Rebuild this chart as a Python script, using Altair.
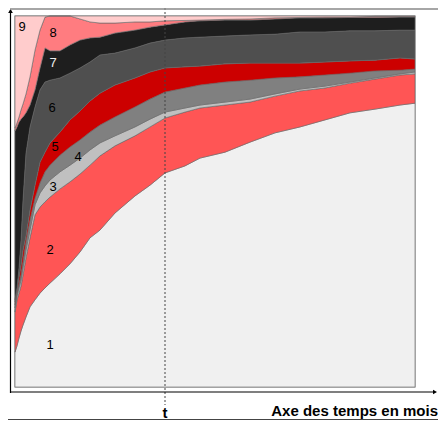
import altair as alt
import pandas as pd

# time axis (months)
months = [0, 0.4, 0.8, 1.2, 1.6, 2.2, 3, 4, 5, 6, 7, 9, 11, 13, 15, 17, 20, 24, 27, 30,
          34, 37, 42, 47, 52, 57, 62, 67, 72, 77, 80]

# cumulative share (%) of the cohort in states 1..k
cum1 = [9.4, 11.1, 13.2, 15.1, 16.7, 18.9, 21.6, 23.5, 25.3, 26.7, 28.0, 30.5, 33.2, 36.4, 40.2, 42.3,
        46.9, 51.5, 54.4, 57.7, 59.6, 61.7, 63.3, 66.0, 68.5, 70.1, 72.0, 73.9, 74.9, 76.0, 76.5]
cum2 = [20.2, 23.5, 25.3, 27.2, 30.2, 34.8, 40.2, 46.4, 48.5, 49.9, 51.2, 53.4, 55.3, 57.4, 59.8, 62.3,
        65.0, 67.7, 70.1, 72.5, 74.1, 75.2, 76.0, 76.8, 78.4, 79.8, 80.6, 81.9, 83.0, 84.1, 84.4]
cum3 = [21.3, 24.5, 26.7, 28.8, 32.1, 36.9, 42.3, 49.1, 52.3, 54.2, 55.8, 58.0, 59.8, 61.7, 63.9, 65.8,
        67.7, 70.1, 72.2, 74.1, 75.2, 76.0, 76.8, 77.6, 79.0, 80.3, 81.1, 82.2, 83.3, 84.4, 84.9]
cum4 = [22.1, 25.3, 27.8, 30.2, 33.7, 39.1, 45.0, 50.9, 55.0, 58.0, 59.8, 62.5, 64.7, 66.6, 68.7, 70.6,
        72.8, 75.5, 77.6, 79.5, 80.6, 81.4, 82.2, 82.7, 83.3, 83.6, 84.1, 84.6, 85.2, 85.4, 85.7]
cum5 = [22.9, 26.1, 29.6, 32.9, 36.9, 40.7, 47.7, 54.4, 60.6, 63.3, 65.8, 68.7, 72.0, 74.4, 77.1, 79.2,
        81.4, 83.3, 84.9, 86.0, 86.3, 86.5, 87.1, 87.3, 87.3, 87.3, 87.6, 87.9, 88.1, 88.7, 88.4]
cum6 = [23.5, 26.7, 32.1, 39.6, 50.4, 63.1, 70.1, 75.5, 80.1, 82.2, 82.7, 83.3, 84.6, 86.0, 87.6, 89.5,
        90.0, 91.4, 92.7, 93.5, 94.1, 94.3, 94.6, 94.9, 95.1, 95.7, 95.7, 96.0, 96.0, 96.2, 96.2]
cum7 = [69.0, 70.1, 71.4, 72.2, 72.8, 73.9, 76.0, 80.1, 86.0, 91.4, 90.6, 90.6, 92.2, 93.5, 94.1, 94.3,
        95.4, 96.2, 97.0, 97.6, 98.4, 98.7, 98.9, 98.9, 99.2, 99.5, 99.5, 99.6, 99.6, 99.7, 99.7]
cum8 = [69.8, 71.2, 72.8, 74.7, 76.3, 79.0, 83.6, 90.8, 96.2, 99.7, 100, 100, 100, 99.2, 98.4, 98.1,
        98.1, 98.4, 98.4, 98.7, 98.8, 98.9, 99.1, 99.2, 99.5, 99.6, 99.7, 99.7, 99.9, 99.9, 99.9]

states = ["1", "2", "3", "4", "5", "6", "7", "8", "9"]
colors = ["#f0f0f0", "#ff5555", "#c0c0c0", "#808080", "#cc0000", "#4f4f4f", "#1e1e1e", "#ff7c80", "#ffcccc"]

label_text = ["9", "8", "6", "5", "4", "3", "2", "1"]
label_month = [1.4, 7.6, 7.4, 8.0, 12.6, 7.6, 7.0, 7.0]
label_pct = [97.0, 95.4, 75.2, 64.7, 62.0, 53.9, 36.9, 11.3]
light_label_text = ["7"]
light_label_month = [7.6]
light_label_pct = [87.3]

t_month = 30
axis_title = "Axe des temps en mois"

# build long table of layer shares
cums = [cum1, cum2, cum3, cum4, cum5, cum6, cum7, cum8, [100.0] * len(months)]
rows = []
for k, s in enumerate(states):
    for i, m in enumerate(months):
        lo = cums[k - 1][i] if k > 0 else 0.0
        rows.append({"month": m, "state": s, "order": k, "share": max(cums[k][i] - lo, 0.0)})
df = pd.DataFrame(rows)

xs = alt.Scale(domain=[0, 80], nice=False, zero=False)
ys = alt.Scale(domain=[0, 100], nice=False, zero=False)

areas = alt.Chart(df).mark_area(stroke="#666666", strokeWidth=0.6, opacity=1).encode(
    x=alt.X("month:Q", scale=xs, axis=None),
    y=alt.Y("share:Q", stack="zero", scale=ys, axis=None),
    color=alt.Color("state:N", scale=alt.Scale(domain=states, range=colors), legend=None),
    order=alt.Order("order:Q", sort="ascending"),
)

labels_df = pd.DataFrame({"month": label_month, "pct": label_pct, "txt": label_text})
labels = alt.Chart(labels_df).mark_text(fontSize=13, font="Liberation Sans", color="#000000").encode(
    x=alt.X("month:Q", scale=xs, axis=None),
    y=alt.Y("pct:Q", scale=ys, axis=None),
    text="txt:N",
)
light_df = pd.DataFrame({"month": light_label_month, "pct": light_label_pct, "txt": light_label_text})
light_labels = alt.Chart(light_df).mark_text(fontSize=13, font="Liberation Sans", color="#eeeeee").encode(
    x=alt.X("month:Q", scale=xs, axis=None),
    y=alt.Y("pct:Q", scale=ys, axis=None),
    text="txt:N",
)

one = pd.DataFrame({"a": [0]})
tdf = pd.DataFrame({"month": [t_month], "txt": ["t"]})

tline = alt.Chart(tdf).mark_rule(color="#444444", strokeDash=[2, 2], strokeWidth=1).encode(
    x=alt.X("month:Q", scale=xs, axis=None), y=alt.value(-8), y2=alt.value(389)
)
tlabel = alt.Chart(tdf).mark_text(fontSize=15, fontWeight="bold", font="Liberation Sans", baseline="middle").encode(
    x=alt.X("month:Q", scale=xs, axis=None), y=alt.value(397), text="txt:N"
)
title = alt.Chart(one).mark_text(fontSize=15, fontWeight="bold", font="Liberation Sans",
                                 align="right", baseline="middle").encode(
    x=alt.value(423), y=alt.value(395), text=alt.value(axis_title)
)

yaxis = alt.Chart(one).mark_rule(color="#000000", strokeWidth=1.2).encode(
    x=alt.value(-4.5), y=alt.value(-6), y2=alt.value(377)
)
yhead = alt.Chart(one).mark_point(shape="triangle-up", filled=True, color="#000000", size=22, opacity=1).encode(
    x=alt.value(-4.5), y=alt.value(-5)
)
xaxis = alt.Chart(one).mark_rule(color="#000000", strokeWidth=1.2).encode(
    x=alt.value(-5), x2=alt.value(420), y=alt.value(376)
)
xhead = alt.Chart(one).mark_point(shape="triangle-right", filled=True, color="#000000", size=22, opacity=1).encode(
    x=alt.value(420), y=alt.value(376)
)
topline = alt.Chart(one).mark_rule(color="#888888", strokeWidth=1.5).encode(
    x=alt.value(-5), x2=alt.value(423), y=alt.value(-7)
)
botline = alt.Chart(one).mark_rule(color="#444444", strokeWidth=1.2).encode(
    x=alt.value(-15), x2=alt.value(423), y=alt.value(403.5)
)

chart = alt.layer(
    areas, labels, light_labels, tline, tlabel, title, yaxis, yhead, xaxis, xhead, topline, botline
).properties(
    width=400, height=371,
    autosize=alt.AutoSizeParams(type="none"),
    padding={"left": 7, "top": 8, "right": 23, "bottom": 33},
    background="#ffffff",
).configure_view(stroke="#a8a8a8", strokeWidth=1.5)

chart.save("out.html", embed_options={"renderer": "svg", "actions": False})
